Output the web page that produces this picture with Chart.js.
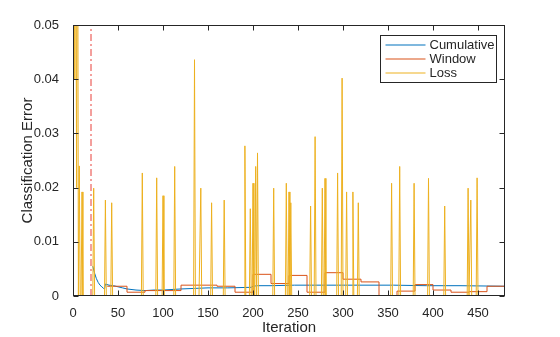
<!doctype html>
<html lang="en">
<head>
<meta charset="utf-8">
<title>Classification Error</title>
<script src="https://cdn.jsdelivr.net/npm/chart.js"></script>
<style>
  html, body { margin: 0; padding: 0; background: #fff; }
  #wrap { width: 560px; height: 337px; }
</style>
</head>
<body>
<div id="wrap"><canvas id="errChart" width="560" height="337"></canvas></div>
<script>
// training curve values
const cumIters  = [22, 24, 26, 28, 30, 32, 34, 35, 36, 40, 45, 50, 55, 60, 70, 80, 90, 100, 110, 120, 135, 150, 172, 198, 200, 205, 220, 246, 270, 301, 330, 356, 393, 430, 480];
const cumValues = [0.0055, 0.0042, 0.0032, 0.0025, 0.0020, 0.0017, 0.0014, 0.0013, 0.0022, 0.0020, 0.0019, 0.0017, 0.0015, 0.0013, 0.0011, 0.0010, 0.0011, 0.0011, 0.0012, 0.0013, 0.0014, 0.0015, 0.0015, 0.0016, 0.0018, 0.0019, 0.0019, 0.0020, 0.0020, 0.0020, 0.0020, 0.0020, 0.0019, 0.0019, 0.0018];

const windowIters  = [38, 60, 80, 120, 160, 180, 200, 220, 240, 260, 280, 300, 320, 340, 360, 380, 400, 420, 440, 460, 480];
const windowValues = [0.0018, 0.0007, 0.0010, 0.0020, 0.0018, 0.0007, 0.0040, 0.0023, 0.0038, 0.0007, 0.0043, 0.0031, 0.0026, 0, 0.0009, 0.0021, 0.0011, 0.0007, 0.0008, 0.0018, 0.0018];

// loss is zero everywhere except at these iterations
const lossIters  = [1, 2, 3, 4, 5, 7, 10, 23, 36, 43, 77, 93, 100, 113, 135, 142, 154, 168, 191, 197, 200, 203, 205, 223, 237, 240, 242, 264, 269, 277, 280, 294, 299, 304, 311, 317, 354, 363, 379, 395, 413, 439, 442, 449];
const lossValues = [0.11, 0.04, 0.08, 0.02, 0.1, 0.024, 0.0192, 0.0199, 0.0177, 0.0172, 0.0227, 0.0218, 0.0185, 0.0239, 0.0436, 0.0199, 0.0172, 0.0177, 0.0277, 0.0161, 0.0208, 0.0239, 0.0264, 0.0199, 0.0208, 0.0192, 0.0172, 0.0166, 0.0294, 0.0199, 0.0217, 0.0227, 0.0402, 0.0192, 0.0192, 0.0172, 0.0208, 0.0239, 0.0208, 0.0217, 0.0166, 0.0199, 0.0177, 0.0218];
const lastIter = 480;

const warmupIter = 20;

const xTicks = [0, 50, 100, 150, 200, 250, 300, 350, 400, 450];
const yTicks = [0, 0.01, 0.02, 0.03, 0.04, 0.05];

const FONT = '"Liberation Sans", Arial, Helvetica, sans-serif';
const INK = '#262626';

const toPoints = (xs, ys) => xs.map((v, i) => ({ x: v, y: ys[i] }));

const lossMap = new Map(lossIters.map((it, i) => [it, lossValues[i]]));
const lossPoints = [];
for (let it = 1; it <= lastIter; it++) {
  lossPoints.push({ x: it, y: lossMap.has(it) ? lossMap.get(it) : 0 });
}

// box around the axes, inward ticks and the legend
const frame = {
  id: 'frame',
  afterDraw(chart) {
    const { ctx, chartArea: a, scales } = chart;
    const L = Math.round(a.left) + 0.5, R = Math.round(a.right) - 0.5;
    const T = Math.round(a.top) + 0.5, B = Math.round(a.bottom) - 0.5;
    ctx.save();
    ctx.strokeStyle = INK;
    ctx.lineWidth = 1;
    ctx.strokeRect(L, T, R - L, B - T);
    const tl = 5;
    ctx.beginPath();
    xTicks.forEach(v => {
      const px = Math.round(scales.x.getPixelForValue(v)) + 0.5;
      ctx.moveTo(px, B); ctx.lineTo(px, B - tl);
      ctx.moveTo(px, T); ctx.lineTo(px, T + tl);
    });
    yTicks.forEach(v => {
      const py = Math.round(scales.y.getPixelForValue(v)) + 0.5;
      ctx.moveTo(L, py); ctx.lineTo(L + tl, py);
      ctx.moveTo(R, py); ctx.lineTo(R - tl, py);
    });
    ctx.stroke();

    // legend
    const items = chart.data.datasets.slice(0, 3);
    const bw = 116, bh = 47;
    const bx = Math.round(a.right) - 9 - bw + 0.5;
    const by = Math.round(a.top) + 10 + 0.5;
    ctx.fillStyle = '#fff';
    ctx.fillRect(bx, by, bw, bh);
    ctx.strokeStyle = INK;
    ctx.strokeRect(bx, by, bw, bh);
    ctx.font = '13px ' + FONT;
    ctx.textBaseline = 'middle';
    ctx.textAlign = 'left';
    items.forEach((ds, i) => {
      const ry = Math.round(by + 9 + i * 14.3);
      ctx.strokeStyle = ds.borderColor;
      ctx.lineWidth = 1.2;
      ctx.beginPath();
      ctx.moveTo(bx + 5, ry); ctx.lineTo(bx + 45, ry);
      ctx.stroke();
      ctx.fillStyle = INK;
      ctx.fillText(ds.label, bx + 49, ry);
    });
    ctx.restore();
  }
};

new Chart(document.getElementById('errChart').getContext('2d'), {
  type: 'line',
  data: {
    datasets: [
      { label: 'Cumulative', data: toPoints(cumIters, cumValues), borderColor: '#0072BD', borderWidth: 1, pointRadius: 0, order: 2 },
      { label: 'Window', data: toPoints(windowIters, windowValues), borderColor: '#D95319', borderWidth: 1, pointRadius: 0, stepped: true, order: 1 },
      { label: 'Loss', data: lossPoints, borderColor: '#EDB120', borderWidth: 1, pointRadius: 0, order: 0 },
      { label: 'warmup', data: [{ x: warmupIter, y: 0 }, { x: warmupIter, y: 0.05 }], borderColor: '#E8413A', borderWidth: 1, borderDash: [7, 3, 2, 3], pointRadius: 0, order: 3 }
    ]
  },
  options: {
    responsive: false,
    animation: false,
    devicePixelRatio: 1,
    layout: { padding: { left: 0, right: 55, top: 25, bottom: 0 } },
    plugins: { legend: { display: false }, tooltip: { enabled: false } },
    scales: {
      x: {
        type: 'linear', min: 0, max: lastIter,
        afterFit: s => { s.height = 41; },
        afterBuildTicks: s => { s.ticks = xTicks.map(v => ({ value: v })); },
        grid: { display: false },
        border: { display: false },
        ticks: { color: INK, font: { family: FONT, size: 13 }, padding: 2, maxRotation: 0 },
        title: { display: true, text: 'Iteration', color: INK, font: { family: FONT, size: 15 }, padding: { top: 0, bottom: 0 } }
      },
      y: {
        type: 'linear', min: 0, max: 0.05,
        afterFit: s => { s.width = 73; },
        afterBuildTicks: s => { s.ticks = yTicks.map(v => ({ value: v })); },
        grid: { display: false },
        border: { display: false },
        ticks: { color: INK, font: { family: FONT, size: 13 }, padding: 6, callback: v => v === 0 ? '0' : v.toFixed(2) },
        title: { display: true, text: 'Classification Error', color: INK, font: { family: FONT, size: 15 }, padding: { top: 19, bottom: 0 } }
      }
    }
  },
  plugins: [frame]
});
</script>
</body>
</html>
